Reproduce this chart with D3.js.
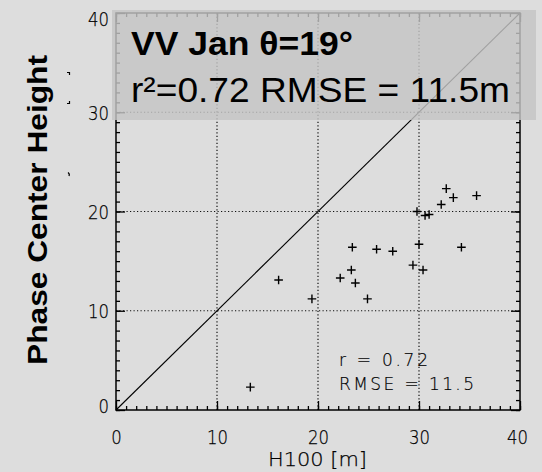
<!DOCTYPE html>
<html>
<head>
<meta charset="utf-8">
<script src="https://cdn.jsdelivr.net/npm/d3@7"></script>
<style>
  html, body { margin: 0; padding: 0; background: #dddddd; }
  svg { display: block; }
  .tick-label { font-family: "DejaVu Sans", sans-serif; font-weight: 200; font-size: 20px; fill: #000; stroke: #000; stroke-width: 0.25px; }
  .stat-label { font-family: "DejaVu Sans", sans-serif; font-weight: 200; font-size: 17px; fill: #000; stroke: #000; stroke-width: 0.2px; }
</style>
</head>
<body>
<svg id="chart" width="542" height="472"></svg>
<script>
// Observed H100 (m) versus phase center height (m)
const h100 = [13.3, 16.1, 19.4, 22.2, 23.3, 23.4, 23.7, 24.9, 25.8, 27.4, 29.4,
              29.8, 30.0, 30.4, 30.6, 31.0, 32.2, 32.7, 33.4, 34.2, 35.7];
const phaseHeight = [2.3, 13.1, 11.2, 13.3, 14.1, 16.4, 12.8, 11.2, 16.2, 16.0, 14.6,
                     20.0, 16.7, 14.1, 19.6, 19.7, 20.7, 22.3, 21.4, 16.4, 21.6];
const majorTicks = [0, 10, 20, 30, 40];
const minorTicks = d3.range(0, 41, 1);
const gridTicks = [10, 20, 30];
const oneToOne = [[0, 0], [40, 40]];
const titleLine1 = "VV Jan θ=19°";
const titleLine2 = "r²=0.72 RMSE = 11.5m";
const statLines = ["r = 0.72", "RMSE = 11.5"];
const xTitle = "H100 [m]";
const yTitle = "Phase Center Height";

const svg = d3.select("#chart");
const x = d3.scaleLinear().domain([0, 40]).range([116, 520]);
const y = d3.scaleLinear().domain([0, 40]).range([410, 13]);

// dotted grid
const grid = svg.append("g").attr("stroke", "#111").attr("stroke-width", 1.2)
  .attr("stroke-dasharray", "1.2,2.3");
grid.selectAll("line.v").data(gridTicks).join("line")
  .attr("x1", d => x(d)).attr("x2", d => x(d))
  .attr("y1", y(0)).attr("y2", y(40));
grid.selectAll("line.h").data(gridTicks).join("line")
  .attr("y1", d => y(d)).attr("y2", d => y(d))
  .attr("x1", x(0)).attr("x2", x(40));

// 1:1 line
svg.append("path")
  .attr("d", d3.line().x(d => x(d[0])).y(d => y(d[1]))(oneToOne))
  .attr("fill", "none").attr("stroke", "#000").attr("stroke-width", 1.1);

// axes with inward ticks
function styleAxis(g) {
  g.select(".domain").remove();
  g.selectAll(".tick line").attr("stroke", "#000").attr("stroke-width", 1.3);
}
function digitLabels(g) {
  g.selectAll("text").attr("class", "tick-label")
    .attr("textLength", d => String(d).length * 10.5)
    .attr("lengthAdjust", "spacingAndGlyphs");
}
svg.append("g").attr("transform", `translate(0,${y(0)})`)
  .call(d3.axisBottom(x).tickValues(minorTicks).tickSize(-4).tickFormat(""))
  .call(styleAxis);
svg.append("g").attr("transform", `translate(0,${y(0)})`)
  .call(d3.axisBottom(x).tickValues(majorTicks).tickSize(-9))
  .call(styleAxis)
  .call(digitLabels)
  .call(g => g.selectAll("text").attr("y", 27).attr("dy", "0.36em")
    .attr("dx", d => d === 40 ? -3 : 0));
svg.append("g").attr("transform", `translate(0,${y(40)})`)
  .call(d3.axisTop(x).tickValues(minorTicks).tickSize(-4).tickFormat(""))
  .call(styleAxis);
svg.append("g").attr("transform", `translate(0,${y(40)})`)
  .call(d3.axisTop(x).tickValues(majorTicks).tickSize(-9).tickFormat(""))
  .call(styleAxis);
svg.append("g").attr("transform", `translate(${x(0)},0)`)
  .call(d3.axisLeft(y).tickValues(minorTicks).tickSize(-4).tickFormat(""))
  .call(styleAxis);
svg.append("g").attr("transform", `translate(${x(0)},0)`)
  .call(d3.axisLeft(y).tickValues(majorTicks).tickSize(-9))
  .call(styleAxis)
  .call(digitLabels)
  .call(g => g.selectAll("text").attr("x", -7)
    .attr("dy", d => d === 40 ? "0.64em" : d === 0 ? "0.1em" : "0.36em"));
svg.append("g").attr("transform", `translate(${x(40)},0)`)
  .call(d3.axisRight(y).tickValues(minorTicks).tickSize(-4).tickFormat(""))
  .call(styleAxis);
svg.append("g").attr("transform", `translate(${x(40)},0)`)
  .call(d3.axisRight(y).tickValues(majorTicks).tickSize(-9).tickFormat(""))
  .call(styleAxis);

// frame
svg.append("rect")
  .attr("x", x(0)).attr("y", y(40))
  .attr("width", x(40) - x(0)).attr("height", y(0) - y(40))
  .attr("fill", "none").attr("stroke", "#000").attr("stroke-width", 1.5);

// data crosses
const arm = 4.3;
svg.append("g").selectAll("path").data(h100.map((v, i) => [v, phaseHeight[i]])).join("path")
  .attr("d", d => `M${x(d[0]) - arm},${y(d[1])}H${x(d[0]) + arm}M${x(d[0])},${y(d[1]) - arm}V${y(d[1]) + arm}`)
  .attr("stroke", "#000").attr("stroke-width", 1.4).attr("fill", "none");

// in-plot statistics
const statLengths = [89, 135];
svg.append("g").selectAll("text").data(statLines).join("text")
  .attr("class", "stat-label")
  .attr("x", 339).attr("y", (d, i) => 366 + i * 24)
  .attr("textLength", (d, i) => statLengths[i])
  .attr("lengthAdjust", "spacing")
  .text(d => d);

// x axis title
svg.append("text").attr("class", "tick-label")
  .attr("x", 268).attr("y", 466)
  .attr("textLength", 99).attr("lengthAdjust", "spacingAndGlyphs")
  .text(xTitle);

// y axis title
svg.append("text")
  .attr("transform", "translate(47,365) rotate(-90)")
  .attr("font-family", "Liberation Sans, Arial, sans-serif")
  .attr("font-weight", "bold").attr("font-size", 27)
  .attr("textLength", 310).attr("lengthAdjust", "spacingAndGlyphs")
  .attr("fill", "#000")
  .text(yTitle);

// small stray marks beside the y title
svg.append("path")
  .attr("d", "M67,72.5H69.5V75 M67,103.5H69.5V101 M68,172.5Q70,174 69,176")
  .attr("stroke", "#000").attr("stroke-width", 1.2).attr("fill", "none");

// header panel
svg.append("rect")
  .attr("x", 112).attr("y", 10).attr("width", 424).attr("height", 110)
  .attr("fill", "#c4c4c4").attr("fill-opacity", 0.82);
svg.append("text")
  .attr("x", 131).attr("y", 55)
  .attr("font-family", "Liberation Sans, Arial, sans-serif")
  .attr("font-weight", "bold").attr("font-size", 33.5).attr("fill", "#000")
  .attr("textLength", 222).attr("lengthAdjust", "spacingAndGlyphs")
  .text(titleLine1);
svg.append("text")
  .attr("x", 131).attr("y", 101.5)
  .attr("font-family", "Liberation Sans, Arial, sans-serif")
  .attr("font-size", 35).attr("fill", "#000")
  .attr("textLength", 379).attr("lengthAdjust", "spacingAndGlyphs")
  .text(titleLine2);
</script>
</body>
</html>
